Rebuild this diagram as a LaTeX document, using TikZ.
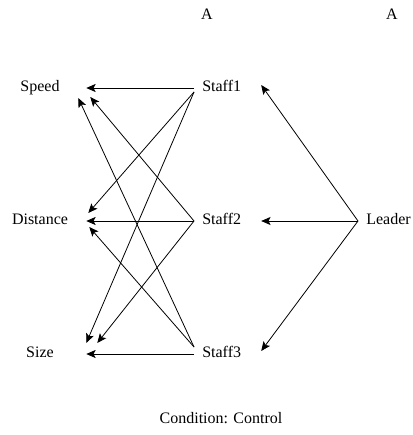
\documentclass[tikz,border=0pt]{standalone}
\usepackage{fontspec}
\setmainfont{Liberation Serif}
\usetikzlibrary{calc,arrows.meta}
\tikzset{
  basic/.style  = {font=\fontsize{12}{14}\selectfont, inner sep=0pt,
                   text height=1.6ex, text depth=.3ex},
  factor/.style = {basic, minimum width=69pt},
  staff/.style  = {basic, anchor=west, inner xsep=6pt, text width=38pt,
                   align=left},
  boss/.style   = {basic, anchor=west, inner xsep=6pt},
  edge/.style   = {-{Stealth[length=7pt,width=6pt,inset=1.5pt]}, line width=0.6pt}
}

\begin{document}
\begin{tikzpicture}[x=0.75pt,y=-0.75pt]
  \useasboundingbox (0,0) rectangle (413,435);
  % column heads
  \node[basic] (headA) at (207,16) {A};
  \node[basic] (headB) at (392,16) {A};
  % outcomes
  \node[factor] (Speed)    at (40,88)  {Speed};
  \node[factor] (Distance) at (40,221) {Distance};
  \node[factor] (Size)     at (40,354) {Size};
  % staff
  \node[staff] (Staff1) at (194,88)  {Staff1};
  \node[staff] (Staff2) at (194,221) {Staff2};
  \node[staff] (Staff3) at (194,354) {Staff3};
  \node[boss]  (Leader) at (358,221) {Leader};
  \node[basic] (cond)   at (221,420) {Condition: Control};

  % staff -> outcomes
  \draw[edge] (Staff1.west) -- (Speed.east);
  \draw[edge] ($(Staff1.west)+(0,4)$) -- ($(Distance.east)+(2,-8)$);
  \draw[edge] ($(Staff1.west)+(0,4)$) -- ($(Size.east)+(0,-11)$);
  \draw[edge] (Staff2.west) -- ($(Speed.east)+(4,9)$);
  \draw[edge] (Staff2.west) -- (Distance.east);
  \draw[edge] (Staff2.west) -- ($(Size.east)+(11,-11)$);
  \draw[edge] ($(Staff3.west)+(0,-7)$) -- ($(Speed.east)+(-8,10)$);
  \draw[edge] ($(Staff3.west)+(0,-7)$) -- ($(Distance.east)+(3,6)$);
  \draw[edge] (Staff3.west) -- (Size.east);
  % leader -> staff
  \draw[edge] (Leader.west) -- ($(Staff1.east)+(0,-3)$);
  \draw[edge] (Leader.west) -- (Staff2.east);
  \draw[edge] (Leader.west) -- ($(Staff3.east)+(0,-3)$);
\end{tikzpicture}
\end{document}
